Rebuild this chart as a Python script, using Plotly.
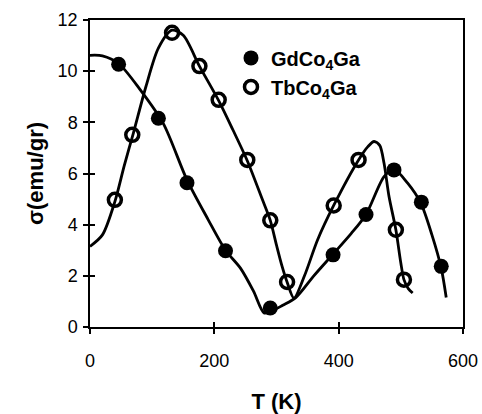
import plotly.graph_objects as go

# Measured data points
gd_T = [46, 110, 156, 218, 290, 391, 444, 489, 533, 565]
gd_s = [10.27, 8.16, 5.64, 2.98, 0.74, 2.82, 4.40, 6.14, 4.88, 2.37]

tb_T = [40, 68, 132, 176, 207, 253, 290, 317, 392, 432, 492, 505]
tb_s = [4.97, 7.51, 11.5, 10.2, 8.88, 6.53, 4.17, 1.76, 4.75, 6.53, 3.80, 1.85]

# Guide-line (fit) curves
gd_curve_T = [0, 20, 46, 80, 118, 156, 190, 218, 242, 263, 280, 292, 310, 331, 360, 391, 420, 444, 473, 489, 511, 532, 550, 565, 573]
gd_curve_s = [10.62, 10.6, 10.3, 9.3, 7.95, 5.75, 4.2, 3.0, 2.3, 1.4, 0.55, 0.62, 0.85, 1.15, 2.0, 2.85, 3.65, 4.4, 5.88, 6.16, 5.62, 4.85, 3.6, 2.3, 1.15]

tb_curve_T = [0, 20, 40, 55, 70, 90, 110, 132, 150, 176, 207, 230, 253, 277, 290, 300, 309, 317, 328, 345, 366, 392, 432, 447, 457, 466, 473, 481, 492, 500, 505, 512, 519]
tb_curve_s = [3.15, 3.6, 4.9, 6.3, 7.6, 9.4, 10.9, 11.6, 11.4, 10.2, 8.85, 7.7, 6.5, 5.0, 4.17, 3.2, 2.37, 1.76, 1.13, 2.0, 3.4, 4.75, 6.53, 7.05, 7.25, 7.1, 6.4, 5.1, 3.8, 2.5, 1.85, 1.5, 1.33]

x_ticks = [0, 200, 400, 600]
y_ticks = [0, 2, 4, 6, 8, 10, 12]

FONT = "Arial, Liberation Sans, sans-serif"

fig = go.Figure()

fig.add_trace(go.Scatter(x=gd_curve_T, y=gd_curve_s, mode="lines",
                         line=dict(color="black", width=2.8, shape="spline", smoothing=0.8),
                         showlegend=False, hoverinfo="skip"))
fig.add_trace(go.Scatter(x=tb_curve_T, y=tb_curve_s, mode="lines",
                         line=dict(color="black", width=2.8, shape="spline", smoothing=0.8),
                         showlegend=False, hoverinfo="skip"))

fig.add_trace(go.Scatter(x=gd_T, y=gd_s, mode="markers", name="GdCo<sub>4</sub>Ga",
                         marker=dict(symbol="circle", size=15, color="black",
                                     line=dict(color="black", width=0))))
fig.add_trace(go.Scatter(x=tb_T, y=tb_s, mode="markers", name="TbCo<sub>4</sub>Ga",
                         marker=dict(symbol="circle-open", size=13, color="black",
                                     line=dict(color="black", width=3.5))))

# trace hosting the inner-tick axes (draws nothing)
fig.add_trace(go.Scatter(x=[None], y=[None], xaxis="x2", yaxis="y2",
                         showlegend=False, hoverinfo="skip", mode="markers"))

axis_common = dict(showgrid=False, zeroline=False, linecolor="black", linewidth=1.5,
                   tickcolor="black", tickwidth=1.5, automargin=False)

fig.update_layout(
    width=482, height=414,
    margin=dict(l=90, r=19, t=20, b=87),
    plot_bgcolor="white", paper_bgcolor="white",
    font=dict(family=FONT, color="black", size=18),
    xaxis=dict(range=[0, 600], tickvals=x_ticks, ticks="outside", ticklen=5,
               mirror=True, showline=True, ticklabelstandoff=12,
               tickfont=dict(size=18),
               title=dict(text="T (K)", font=dict(size=22, weight="bold"), standoff=24),
               **axis_common),
    yaxis=dict(range=[0, 12], tickvals=y_ticks, ticks="outside", ticklen=5,
               mirror=True, showline=True, ticklabelstandoff=2,
               tickfont=dict(size=18),
               title=dict(text="σ(emu/gr)", font=dict(size=22, weight="bold"), standoff=8),
               **axis_common),
    xaxis2=dict(range=[0, 600], tickvals=x_ticks, ticks="inside", ticklen=5,
                overlaying="x", anchor="y2", side="bottom", showticklabels=False,
                showline=False, showgrid=False, zeroline=False, automargin=False,
                tickcolor="black", tickwidth=1.5),
    yaxis2=dict(range=[0, 12], tickvals=y_ticks, ticks="inside", ticklen=5,
                overlaying="y", anchor="x2", side="left", showticklabels=False,
                showline=False, showgrid=False, zeroline=False, automargin=False,
                tickcolor="black", tickwidth=1.5),
    legend=dict(x=0.378, y=0.94, xanchor="left", yanchor="top",
                bgcolor="rgba(0,0,0,0)", font=dict(size=20, weight="bold"),
                tracegroupgap=0, itemwidth=30),
)

fig.write_html("out.html")
